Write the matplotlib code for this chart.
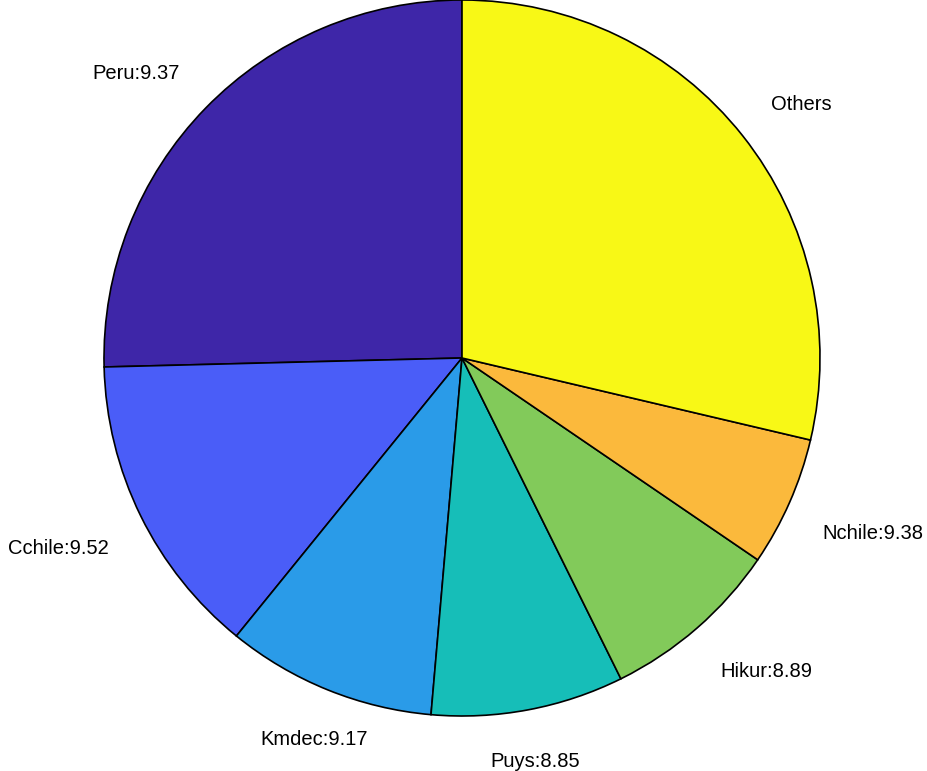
import matplotlib.pyplot as plt
import numpy as np

# slice shares (percent) and their labels
regions = ['Peru', 'Cchile', 'Kmdec', 'Puys', 'Hikur', 'Nchile', 'Others']
shares = [25.4, 13.75, 9.47, 8.7, 8.15, 5.85, 28.68]
mags = ['9.37', '9.52', '9.17', '8.85', '8.89', '9.38', None]
colors = ['#3E26A8', '#4A5DF8', '#2A9BE8', '#16BEB8', '#82CA5A', '#FBB93C', '#F8F816']

labels = [r if m is None else f'{r}:{m}' for r, m in zip(regions, mags)]

fig = plt.figure(figsize=(9.27, 7.71), dpi=100)
ax = fig.add_axes([104 / 927, 55 / 771, 716 / 927, 716 / 771])

wedges, _ = ax.pie(shares, colors=colors, startangle=90, counterclock=True,
                   wedgeprops=dict(edgecolor='black', linewidth=1.2))

# matlab-like label placement: 1.1 r at mid angle, pushed away from the pie
for w, lab in zip(wedges, labels):
    th = np.deg2rad((w.theta1 + w.theta2) / 2)
    x, y = 1.1 * np.cos(th), 1.1 * np.sin(th)
    if abs(np.cos(th)) < 0.5:
        ha = 'center'
    else:
        ha = 'left' if x > 0 else 'right'
    va = 'bottom' if y > 0 else 'top'
    dy = 0 if y > 0 else -5
    ax.annotate(lab, (x, y), xytext=(0, dy), textcoords='offset points',
                ha=ha, va=va, fontsize=14.5, family='Liberation Sans',
                annotation_clip=False)

ax.set_xlim(-1, 1)
ax.set_ylim(-1, 1)
ax.set_aspect('equal')
ax.axis('off')

fig.savefig('out.png', dpi=100)
